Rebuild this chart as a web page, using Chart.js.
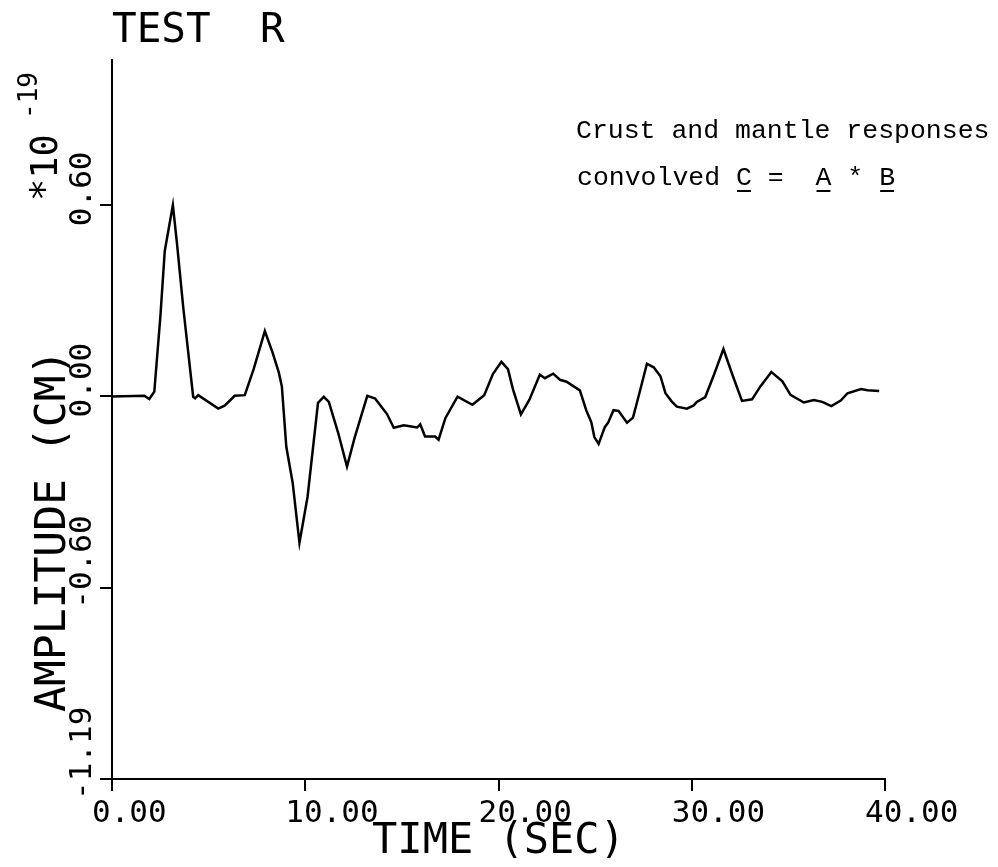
<!DOCTYPE html>
<html><head><meta charset="utf-8">
<script src="https://cdn.jsdelivr.net/npm/chart.js@4.4.1/dist/chart.umd.min.js"></script>
<style>html,body{margin:0;padding:0;background:#fff;}#wrap{width:998px;height:867px;position:relative;}canvas{display:block;}</style>
</head><body><div id="wrap"><canvas id="c" width="998" height="867"></canvas></div>
<script>
// ---- data ----
const times = [0, 1.67, 1.93, 2.19, 2.51, 2.73, 3.15, 3.37, 3.69, 4.2, 4.3, 4.46, 5.5, 5.83, 6.35, 6.87, 7.33, 7.91, 8.31, 8.63, 8.79, 9.02, 9.35, 9.70, 10.12, 10.66, 10.96, 11.22, 11.71, 12.16, 12.56, 13.21, 13.62, 14.23, 14.58, 15.1, 15.79, 15.95, 16.2, 16.72, 16.9, 17.25, 17.88, 18.65, 19.26, 19.71, 20.15, 20.49, 20.75, 21.16, 21.6, 22.14, 22.4, 22.83, 23.18, 23.52, 24.21, 24.54, 24.8, 24.96, 25.18, 25.5, 25.68, 25.95, 26.21, 26.65, 26.96, 27.32, 27.68, 28.03, 28.38, 28.64, 28.97, 29.23, 29.75, 30.1, 30.26, 30.7, 31.14, 31.64, 32.09, 32.6, 33.12, 33.56, 34.12, 34.69, 35.11, 35.8, 36.32, 36.75, 37.22, 37.71, 38.06, 38.76, 39.1, 39.7];
const amplitudes = [0, 0.002, -0.008, 0.015, 0.255, 0.454, 0.597, 0.473, 0.276, -0.001, -0.006, 0.004, -0.038, -0.029, 0.002, 0.004, 0.085, 0.204, 0.137, 0.075, 0.031, -0.157, -0.270, -0.457, -0.313, -0.020, -0.001, -0.017, -0.115, -0.219, -0.128, 0.002, -0.007, -0.055, -0.098, -0.090, -0.097, -0.087, -0.125, -0.125, -0.135, -0.068, -0.001, -0.026, 0.004, 0.070, 0.108, 0.085, 0.022, -0.056, -0.010, 0.068, 0.057, 0.071, 0.052, 0.046, 0.019, -0.043, -0.080, -0.127, -0.148, -0.096, -0.081, -0.043, -0.045, -0.082, -0.066, 0.017, 0.102, 0.091, 0.063, 0.010, -0.016, -0.032, -0.038, -0.028, -0.017, -0.002, 0.066, 0.148, 0.070, -0.014, -0.009, 0.032, 0.076, 0.047, 0.005, -0.019, -0.011, -0.017, -0.030, -0.013, 0.010, 0.023, 0.019, 0.017];
const xTickValues = [0, 10, 20, 30, 40];
const xTickLabels = ["0.00", "10.00", "20.00", "30.00", "40.00"];
const yTickValues = [-1.194, -0.597, 0, 0.597];
const yTickLabels = ["-1.19", "-0.60", "0.00", "0.60"];
const xRange = [0, 40];
const yRange = [-1.194, 1.05];
const chartTitle = "TEST  R";
const xAxisTitle = "TIME (SEC)";
const yAxisTitle = "AMPLITUDE (CM)";
const yMultiplier = "*10";
const yExponent = "-19";
const noteLines = ["Crust and mantle responses", "convolved C =  A * B"];
const underlinedChars = [10, 15, 19];

const MONO = '"DejaVu Sans Mono", "Liberation Mono", monospace';

function drawRot(ctx, text, x, y) {
  ctx.save();
  ctx.translate(x, y);
  ctx.rotate(-Math.PI / 2);
  ctx.textAlign = 'left';
  ctx.textBaseline = 'alphabetic';
  ctx.fillText(text, 0, 0);
  ctx.restore();
}

const textPlugin = {
  id: 'plotterText',
  afterDraw(chart) {
    const ctx = chart.ctx;
    const ys = chart.scales.y;
    ctx.save();
    ctx.fillStyle = '#000';
    ctx.strokeStyle = '#000';
    // rotated y tick labels
    ctx.font = '31px ' + MONO;
    ys.ticks.forEach((t, i) => {
      const py = ys.getPixelForValue(t.value);
      drawRot(ctx, yTickLabels[i], 91, py + 21);
    });
    // multiplier *10^-19
    ctx.font = '37px ' + MONO;
    drawRot(ctx, yMultiplier, 57, 201);
    ctx.font = '26px ' + MONO;
    drawRot(ctx, yExponent, 37, 119);
    // y axis title
    ctx.font = '43px ' + MONO;
    drawRot(ctx, yAxisTitle, 65, 712);
    // note text
    ctx.font = '26.5px "Liberation Mono", "Courier New", monospace';
    ctx.textAlign = 'left';
    ctx.textBaseline = 'alphabetic';
    const x0 = 576;
    ctx.fillText(noteLines[0], x0, 138);
    ctx.fillText(noteLines[1], x0 + 1, 185);
    const w = ctx.measureText('M').width;
    ctx.lineWidth = 2;
    underlinedChars.forEach(idx => {
      ctx.beginPath();
      ctx.moveTo(x0 + 1 + idx * w + 1, 191);
      ctx.lineTo(x0 + 1 + (idx + 1) * w - 1, 191);
      ctx.stroke();
    });
    ctx.restore();
  }
};

new Chart(document.getElementById('c'), {
  type: 'line',
  data: {
    datasets: [{
      data: times.map((t, i) => ({ x: t, y: amplitudes[i] })),
      borderColor: '#000',
      borderWidth: 2.5,
      pointRadius: 0,
      tension: 0,
      fill: false
    }]
  },
  options: {
    responsive: false,
    devicePixelRatio: 1,
    animation: false,
    layout: { padding: { left: 0, right: 113, top: 0, bottom: 0 } },
    plugins: {
      legend: { display: false },
      tooltip: { enabled: false },
      title: {
        display: true,
        text: chartTitle,
        align: 'start',
        fullSize: false,
        color: '#000',
        font: { family: MONO, size: 41, weight: 'normal', lineHeight: 1 },
        padding: { top: 11, bottom: 8 }
      }
    },
    scales: {
      x: {
        type: 'linear',
        min: xRange[0], max: xRange[1],
        afterBuildTicks: s => { s.ticks = xTickValues.map(v => ({ value: v })); },
        afterFit: s => { s.height = 88; },
        ticks: {
          callback: (v, i) => xTickLabels[i],
          align: 'start',
          labelOffset: -20,
          padding: 7,
          maxRotation: 0, minRotation: 0, autoSkip: false,
          color: '#000',
          font: { family: MONO, size: 31, lineHeight: 1 }
        },
        grid: { display: true, drawOnChartArea: false, drawTicks: true, tickLength: 12, color: '#000', lineWidth: 2 },
        border: { display: true, color: '#000', width: 2 },
        title: {
          display: true, text: xAxisTitle, color: '#000',
          font: { family: MONO, size: 42, lineHeight: 1 },
          padding: { top: 0, bottom: 4 }
        }
      },
      y: {
        type: 'linear',
        min: yRange[0], max: yRange[1],
        afterBuildTicks: s => { s.ticks = yTickValues.map(v => ({ value: v })); },
        afterFit: s => { s.width = 112; },
        ticks: { display: false },
        grid: { display: true, drawOnChartArea: false, drawTicks: true, tickLength: 12, color: '#000', lineWidth: 2 },
        border: { display: true, color: '#000', width: 2 }
      }
    }
  },
  plugins: [textPlugin]
});
</script>
</body></html>
